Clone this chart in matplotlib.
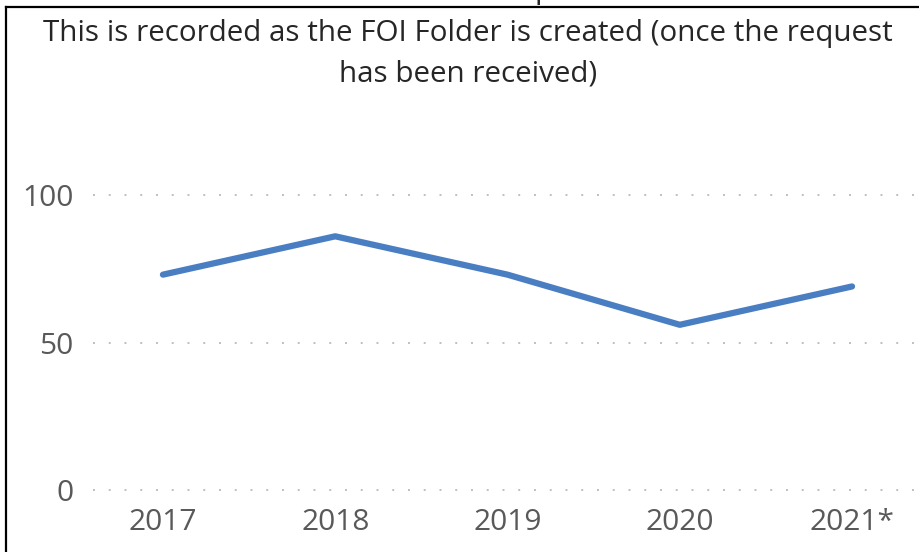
import matplotlib
matplotlib.use("Agg")
import matplotlib.pyplot as plt
from matplotlib.lines import Line2D

plt.rcParams["font.family"] = ["Open Sans", "DejaVu Sans"]

years = ["2017", "2018", "2019", "2020", "2021*"]
requests = [73, 86, 73, 56, 69]
yticks = [0, 50, 100]

W, H = 920, 552
fig = plt.figure(figsize=(W / 100, H / 100), dpi=100)
ax = fig.add_axes([93 / W, (H - 490) / H, 829 / W, 295 / H])

x = list(range(len(years)))
ax.plot(x, requests, color="#4A7EC2", lw=4.5, solid_capstyle="round",
        solid_joinstyle="round", zorder=3, clip_on=False)

ax.set_xlim(-0.406, len(years) - 1 + 0.406)
ax.set_ylim(0, 100)
ax.set_yticks(yticks)
ax.set_xticks(x)
ax.set_xticklabels(years)
ax.tick_params(axis="both", length=0, labelsize=21.5, labelcolor="#595959")
ax.tick_params(axis="y", pad=14)
ax.tick_params(axis="x", pad=13)
for yv in yticks:
    ax.axhline(yv, color="#BFBFBF", lw=1.4, dashes=(1.0, 7.1), zorder=1, clip_on=False)
for s in ax.spines.values():
    s.set_visible(False)

fig.text(468 / W, 1 - 33 / H, "This is recorded as the FOI Folder is created (once the request",
         ha="center", va="center", fontsize=21.3, color="#262626")
fig.text(468 / W, 1 - 74 / H, "has been received)",
         ha="center", va="center", fontsize=21.3, color="#262626")
# bit of the heading above, cut off by the crop
fig.text(544 / W, 1 + 2 / H, "p", ha="center", va="baseline", fontsize=21.3, color="#262626")

# frame of the chart area (only left and top edges are in view)
fig.add_artist(Line2D([6.5 / W, 6.5 / W], [0, 1 - 7 / H], color="black", lw=1.6, transform=fig.transFigure))
fig.add_artist(Line2D([6.5 / W, 1], [1 - 7 / H, 1 - 7 / H], color="black", lw=1.6, transform=fig.transFigure))

fig.savefig("out.png", dpi=100, facecolor="white")
